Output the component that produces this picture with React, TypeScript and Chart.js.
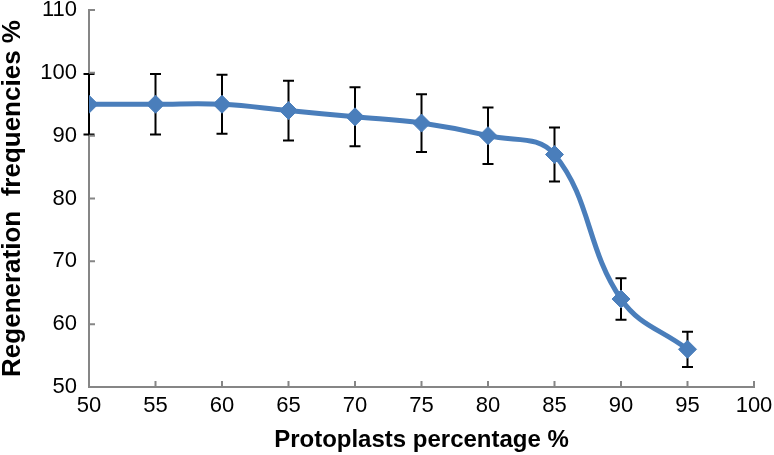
import React, { useEffect, useRef } from "react";
import { Chart, registerables } from "chart.js";

Chart.register(...registerables);

const protoplastPercent = [50, 55, 60, 65, 70, 75, 80, 85, 90, 95];
const regenerationFreq = [95, 95, 95, 94, 93, 92, 90, 87, 64, 56];
const errorValues = [4.8, 4.8, 4.7, 4.75, 4.7, 4.6, 4.5, 4.3, 3.3, 2.8];
const xTicks = [50, 55, 60, 65, 70, 75, 80, 85, 90, 95, 100];
const yTicks = [50, 60, 70, 80, 90, 100, 110];

const errorBarPlugin = {
  id: "errorBars",
  beforeDatasetsDraw(chart: any) {
    const { ctx, scales } = chart;
    const xs = scales.x;
    const ys = scales.y;
    ctx.save();
    ctx.strokeStyle = "#000000";
    ctx.lineWidth = 2;
    const cap = 5.5;
    protoplastPercent.forEach((xv, i) => {
      const px = xs.getPixelForValue(xv);
      const top = ys.getPixelForValue(regenerationFreq[i] + errorValues[i]);
      const bot = ys.getPixelForValue(regenerationFreq[i] - errorValues[i]);
      ctx.beginPath();
      ctx.moveTo(px, top);
      ctx.lineTo(px, bot);
      ctx.moveTo(px - cap, top);
      ctx.lineTo(px + cap, top);
      ctx.moveTo(px - cap, bot);
      ctx.lineTo(px + cap, bot);
      ctx.stroke();
    });
    ctx.restore();
  },
};

const innerTicksPlugin = {
  id: "innerTicks",
  afterDraw(chart: any) {
    const { ctx, scales, chartArea } = chart;
    ctx.save();
    ctx.strokeStyle = "#868686";
    ctx.lineWidth = 2;
    ctx.beginPath();
    xTicks.forEach((v) => {
      const px = scales.x.getPixelForValue(v);
      ctx.moveTo(px, chartArea.bottom);
      ctx.lineTo(px, chartArea.bottom - 6);
    });
    yTicks.forEach((v) => {
      const py = scales.y.getPixelForValue(v);
      ctx.moveTo(chartArea.left, py);
      ctx.lineTo(chartArea.left + 6, py);
    });
    ctx.stroke();
    ctx.restore();
  },
};

export default function App() {
  const canvasRef = useRef<HTMLCanvasElement | null>(null);

  useEffect(() => {
    if (!canvasRef.current) return;
    const chart = new Chart(canvasRef.current, {
      type: "line",
      data: {
        datasets: [
          {
            data: protoplastPercent.map((x, i) => ({ x, y: regenerationFreq[i] })),
            borderColor: "#4a7ebb",
            backgroundColor: "#4a7ebb",
            borderWidth: 5,
            tension: 0.4,
            pointStyle: "rectRot",
            pointRadius: 9,
            pointBorderWidth: 1,
            pointBorderColor: "#4a7ebb",
            pointBackgroundColor: "#4a7ebb",
            fill: false,
          },
        ],
      },
      options: {
        animation: false,
        responsive: false,
        devicePixelRatio: 1,
        layout: { padding: { top: 10, right: 20, left: 0, bottom: 0 } },
        plugins: {
          legend: { display: false },
          tooltip: { enabled: false },
        },
        scales: {
          x: {
            type: "linear",
            min: 50,
            max: 100,
            afterBuildTicks: (scale: any) => {
              scale.ticks = xTicks.map((v) => ({ value: v }));
            },
            afterFit: (scale: any) => {
              scale.height = 68;
              scale.paddingLeft = 0;
              scale.paddingRight = 0;
            },
            grid: { display: false, drawTicks: false },
            border: { display: true, color: "#868686", width: 2 },
            ticks: {
              color: "#000000",
              padding: 6,
              maxRotation: 0,
              autoSkip: false,
              font: { family: "Liberation Sans", size: 22 },
            },
            title: {
              display: true,
              text: "Protoplasts percentage %",
              color: "#000000",
              padding: { top: 0, bottom: 0 },
              font: { family: "Liberation Sans", size: 24, weight: "bold" },
            },
          },
          y: {
            type: "linear",
            min: 50,
            max: 110,
            afterBuildTicks: (scale: any) => {
              scale.ticks = yTicks.map((v) => ({ value: v }));
            },
            afterFit: (scale: any) => {
              scale.width = 89;
              scale.paddingTop = 0;
              scale.paddingBottom = 0;
            },
            grid: { display: false, drawTicks: false },
            border: { display: true, color: "#868686", width: 2 },
            ticks: {
              color: "#000000",
              padding: 12,
              autoSkip: false,
              font: { family: "Liberation Sans", size: 22 },
            },
            title: {
              display: true,
              text: "Regeneration  frequencies %",
              color: "#000000",
              padding: { top: 0, bottom: 0 },
              font: { family: "Liberation Sans", size: 26, weight: "bold", lineHeight: 1.0 },
            },
          },
        },
      },
      plugins: [errorBarPlugin, innerTicksPlugin],
    });
    return () => chart.destroy();
  }, []);

  return (
    <div style={{ position: "absolute", left: 0, top: 0, width: 774, height: 455, background: "#ffffff" }}>
      <canvas ref={canvasRef} width={774} height={455} />
    </div>
  );
}
